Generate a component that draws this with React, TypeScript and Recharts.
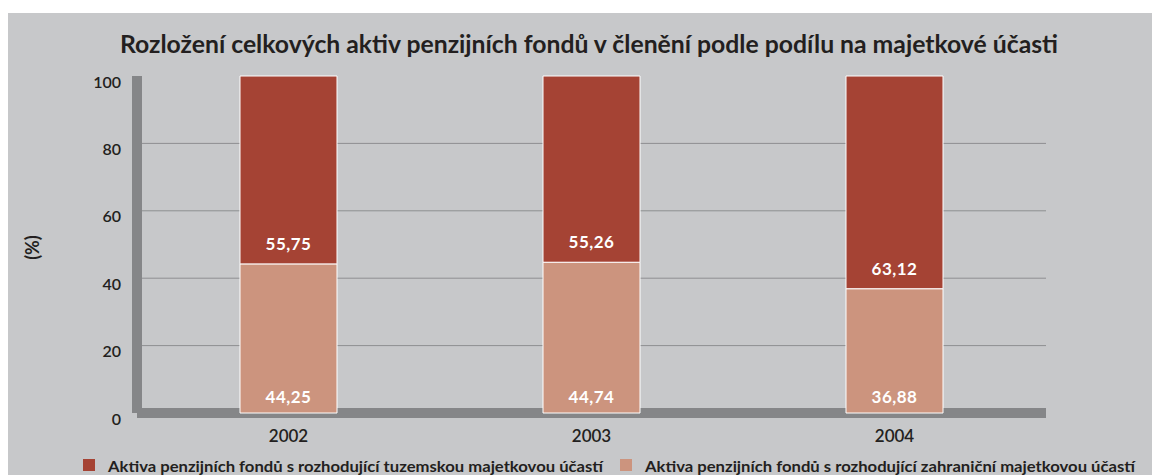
import React from 'react';
import { BarChart, Bar, XAxis, YAxis, CartesianGrid, Legend, LabelList } from 'recharts';

const years = ['2002', '2003', '2004'];
const zahranicni = [44.25, 44.74, 36.88];
const tuzemske = [55.75, 55.26, 63.12];
const yTicks = [0, 20, 40, 60, 80, 100];
const gridValues = [20, 40, 60, 80];

const TITLE = 'Rozložení celkových aktiv penzijních fondů v členění podle podílu na majetkové účasti';
const NAME_TUZ = 'Aktiva penzijních fondů s rozhodující tuzemskou majetkovou účastí';
const NAME_ZAHR = 'Aktiva penzijních fondů s rozhodující zahraniční majetkovou účastí';

const rows = years.map((year, i) => ({ year, zahranicni: zahranicni[i], tuzemske: tuzemske[i] }));

const W = 1152;
const H = 462;
const BG = '#c7c8ca';
const AXIS = '#858688';
const TEXT = '#231f20';
const DARK = '#a54334';
const LIGHT = '#cc947e';

const fmt = (v: any) => Number(v).toFixed(2).replace('.', ',');

// legend drawn as svg so the long labels keep their width
const legendOrder = ['tuzemske', 'zahranicni'];
const renderLegend = (props: any) => {
  const payload = props.payload || [];
  const items = legendOrder
    .map((k) => payload.find((p: any) => p.dataKey === k))
    .filter(Boolean);
  const spots = [
    { sq: 75, tx: 100, len: 495 },
    { sq: 612, tx: 637, len: 490 },
  ];
  return (
    <svg width={W} height={24}>
      {items.map((it: any, i: number) => (
        <g key={it.value}>
          <rect x={spots[i].sq} y={6} width={12} height={12} fill={it.color} />
          <text
            x={spots[i].tx}
            y={19}
            fill={TEXT}
            fontSize={16}
            fontWeight={700}
            textLength={spots[i].len}
            lengthAdjust="spacingAndGlyphs"
          >
            {it.value}
          </text>
        </g>
      ))}
    </svg>
  );
};

const App: React.FC = () => {
  return (
    <div
      style={{
        marginTop: 5,
        width: W,
        height: H,
        background: BG,
        position: 'relative',
        overflow: 'hidden',
        fontFamily: 'Lato, "Open Sans", sans-serif',
      }}
    >
      <svg width={W} height={60} style={{ position: 'absolute', left: 0, top: 0 }}>
        <text
          x={581}
          y={40}
          textAnchor="middle"
          fill={TEXT}
          fontSize={24}
          fontWeight={700}
          textLength={938}
          lengthAdjust="spacingAndGlyphs"
        >
          {TITLE}
        </text>
      </svg>

      <BarChart
        width={W}
        height={H}
        data={rows}
        margin={{ top: 63, right: 114, bottom: 32, left: 0 }}
        barSize={97}
      >
        <CartesianGrid vertical={false} horizontalValues={gridValues} stroke="#8e8f91" strokeWidth={1} />
        <XAxis
          dataKey="year"
          height={30}
          zIndex={100}
          axisLine={{ stroke: AXIS, strokeWidth: 10 }}
          tickLine={false}
          tickSize={0}
          tickMargin={17}
          tick={{ fill: TEXT, fontSize: 17, fontWeight: 600 }}
        />
        <YAxis
          width={129}
          zIndex={100}
          domain={[0, 100]}
          ticks={yTicks}
          axisLine={{ stroke: AXIS, strokeWidth: 10 }}
          tickLine={false}
          tickSize={0}
          tickMargin={16}
          tick={{ fill: TEXT, fontSize: 16, fontWeight: 600, dy: 6 }}
          label={{
            content: (p: any) => {
              const vb = p.viewBox || { x: 0, y: 63, height: 337 };
              const cx = vb.x + 24;
              const cy = vb.y + vb.height / 2 + 3;
              return (
                <text
                  x={cx}
                  y={cy}
                  transform={`rotate(-90 ${cx} ${cy})`}
                  textAnchor="middle"
                  dominantBaseline="central"
                  fill={TEXT}
                  fontSize={18}
                  fontWeight={700}
                >
                  (%)
                </text>
              );
            },
          }}
        />
        <Legend
          layout="horizontal"
          verticalAlign="middle"
          align="center"
          content={renderLegend}
          wrapperStyle={{ top: 440, left: 0, bottom: 'auto', width: W }}
        />
        <Bar dataKey="zahranicni" name={NAME_ZAHR} stackId="a" fill={LIGHT} stroke="#fff" strokeWidth={1} zIndex={700} isAnimationActive={false}>
          <LabelList
            dataKey="zahranicni"
            position="insideBottom"
            offset={10}
            formatter={fmt}
            fill="#fff"
            fontSize={17}
            fontWeight={700}
            style={{ letterSpacing: 0.5 }}
          />
        </Bar>
        <Bar dataKey="tuzemske" name={NAME_TUZ} stackId="a" fill={DARK} stroke="#fff" strokeWidth={1} zIndex={700} isAnimationActive={false}>
          <LabelList
            dataKey="tuzemske"
            position="insideBottom"
            offset={14}
            formatter={fmt}
            fill="#fff"
            fontSize={17}
            fontWeight={700}
            style={{ letterSpacing: 0.5 }}
          />
        </Bar>
      </BarChart>
    </div>
  );
};

export default App;
